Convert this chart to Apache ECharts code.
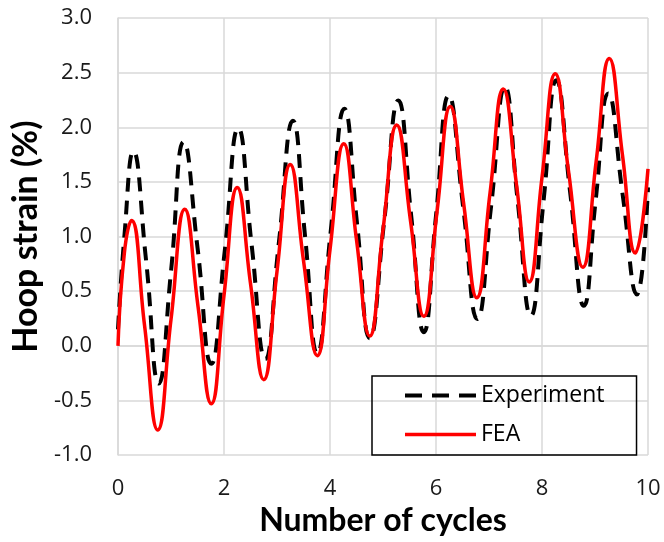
<!DOCTYPE html>
<html>
<head>
<meta charset="utf-8">
<title>Hoop strain vs. number of cycles</title>
<script src="https://cdn.jsdelivr.net/npm/echarts@6/dist/echarts.min.js"></script>
<style>
  html, body { margin: 0; padding: 0; background: #fff; }
  #chart { width: 664px; height: 542px; }
</style>
</head>
<body>
<div id="chart"></div>
<script>
// Measured hoop strain (%) against cycle count
var expX = [0, 0.12, 0.29, 0.53, 0.77, 1.0, 1.24, 1.5, 1.76, 2.01, 2.27, 2.52, 2.78, 3.03, 3.30, 3.53, 3.76, 4.01, 4.27, 4.51, 4.75, 5.02, 5.29, 5.53, 5.77, 6.0, 6.24, 6.51, 6.78, 7.04, 7.30, 7.54, 7.79, 8.03, 8.27, 8.53, 8.79, 9.01, 9.25, 9.52, 9.79, 10];
var expY = [0.15, 1.0, 1.78, 0.78, -0.345, 0.68, 1.866, 0.9, -0.165, 0.85, 1.99, 0.93, -0.12, 0.92, 2.06, 1.0, -0.07, 1.03, 2.17, 1.12, 0.07, 1.13, 2.245, 1.2, 0.125, 1.19, 2.29, 1.28, 0.245, 1.28, 2.37, 1.33, 0.275, 1.33, 2.43, 1.41, 0.366, 1.32, 2.31, 1.39, 0.47, 1.45];

// Finite element prediction
var feaX = [0, 0.12, 0.255, 0.5, 0.75, 1.0, 1.26, 1.51, 1.76, 2.0, 2.25, 2.5, 2.75, 3.0, 3.25, 3.5, 3.76, 4.0, 4.26, 4.5, 4.75, 5.0, 5.26, 5.52, 5.77, 6.02, 6.27, 6.52, 6.77, 7.02, 7.27, 7.52, 7.76, 8.0, 8.25, 8.5, 8.77, 9.02, 9.27, 9.52, 9.76, 10];
var feaY = [0, 0.85, 1.148, 0.19, -0.77, 0.24, 1.25, 0.36, -0.53, 0.46, 1.45, 0.57, -0.31, 0.68, 1.66, 0.78, -0.09, 0.88, 1.85, 0.97, 0.09, 1.06, 2.02, 1.14, 0.27, 1.23, 2.19, 1.31, 0.44, 1.40, 2.35, 1.47, 0.585, 1.54, 2.49, 1.6, 0.72, 1.68, 2.63, 1.74, 0.85, 1.62];

var xTicks = { min: 0, max: 10, step: 2 };
var yTicks = { min: -1, max: 3, step: 0.5 };

function pairs(xs, ys) {
  return xs.map(function (x, i) { return [x, ys[i]]; });
}

var REG = '"Open Sans", "Noto Sans", sans-serif';
var BOLD = 'Lato, "Open Sans", sans-serif';
var gridColor = '#d9d9d9';

var chart = echarts.init(document.getElementById('chart'), null, { renderer: 'canvas' });

chart.setOption({
  animation: false,
  backgroundColor: '#ffffff',
  grid: { left: 118, top: 18, width: 530, height: 439, containLabel: false },
  xAxis: {
    type: 'value',
    min: xTicks.min, max: xTicks.max, interval: xTicks.step,
    name: 'Number of cycles',
    nameLocation: 'middle',
    nameGap: 30,
    nameTextStyle: { fontFamily: BOLD, fontWeight: 'bold', fontSize: 32, color: '#000' },
    axisLine: { show: true, lineStyle: { color: gridColor, width: 1.5 } },
    axisTick: { show: false },
    axisLabel: { margin: 23, fontFamily: REG, fontSize: 22, color: '#1a1a1a' },
    splitLine: { show: true, lineStyle: { color: gridColor, width: 1.5 } }
  },
  yAxis: {
    type: 'value',
    min: yTicks.min, max: yTicks.max, interval: yTicks.step,
    name: 'Hoop strain (%)',
    nameLocation: 'middle',
    nameRotate: 90,
    nameGap: 71,
    nameTextStyle: { fontFamily: BOLD, fontWeight: 'bold', fontSize: 34, color: '#000' },
    axisLine: { show: true, lineStyle: { color: gridColor, width: 1.5 } },
    axisTick: { show: false },
    axisLabel: {
      margin: 26, fontFamily: REG, fontSize: 22, color: '#1a1a1a',
      formatter: function (v) { return v.toFixed(1); }
    },
    splitLine: { show: true, lineStyle: { color: gridColor, width: 1.5 } }
  },
  legend: {
    orient: 'vertical',
    left: 372, top: 376,
    itemWidth: 71, itemHeight: 14,
    itemGap: 16,
    padding: [8, 32, 9, 31],
    borderColor: '#000', borderWidth: 1.5,
    textStyle: { fontFamily: REG, fontSize: 23, color: '#000' },
    itemStyle: { opacity: 0 },
    data: [
      { name: 'Experiment', lineStyle: { color: '#000', width: 4, type: [17, 10], opacity: 1 } },
      { name: 'FEA', lineStyle: { color: '#ff0000', width: 3.5, type: 'solid', opacity: 1 } }
    ]
  },
  series: [
    {
      name: 'Experiment',
      type: 'line',
      data: pairs(expX, expY),
      smooth: 0.5,
      symbol: 'none',
      showSymbol: false,
      lineStyle: { color: '#000', width: 4, type: [14, 9] },
      itemStyle: { color: '#000' },
      z: 2
    },
    {
      name: 'FEA',
      type: 'line',
      data: pairs(feaX, feaY),
      smooth: 0.5,
      symbol: 'none',
      showSymbol: false,
      lineStyle: { color: '#ff0000', width: 3.5 },
      itemStyle: { color: '#ff0000' },
      z: 3
    }
  ]
});
</script>
</body>
</html>
